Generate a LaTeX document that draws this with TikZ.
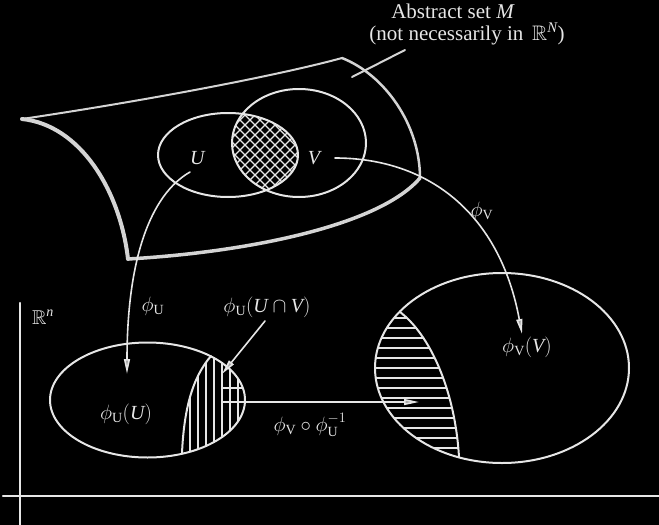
\documentclass[tikz,border=0pt]{standalone}
\usepackage{amsmath,amssymb}
\usepackage{fontspec}
\setmainfont{Liberation Serif}
\usetikzlibrary{arrows.meta}
\definecolor{ink}{HTML}{E6E6E6}
\definecolor{inkb}{HTML}{D4D4D4}
\begin{document}
\begin{tikzpicture}[x=1pt,y=-1pt, line join=round, line cap=round,
  curve/.style={ink, line width=2pt},
  edge/.style={inkb},
  hatch/.style={ink, line width=1.3pt},
  lbl/.style={text=ink, font=\fontsize{20}{24}\selectfont, inner sep=0pt},
  txt/.style={text=ink, font=\fontsize{21}{25}\selectfont, inner sep=0pt, anchor=base},
  arr/.style={ink, line width=1.6pt, -{Triangle[length=15pt,width=6pt,fill=gray!70]}},
]
\fill[black] (0,0) rectangle (659,525);
\useasboundingbox (0,0) rectangle (659,525);

% abstract set M
\coordinate (TL) at (22,119);
\coordinate (TR) at (342,58);
\coordinate (BR) at (420,178);
\coordinate (BL) at (128,259);
\draw[edge, line width=2pt] (TL) .. controls (150,100) and (280,75) .. (TR);
\draw[edge, line width=2.5pt] (TR) .. controls (385,75) and (420,125) .. (BR);
\draw[edge, line width=3.5pt] (BR) .. controls (380,225) and (250,252) .. (BL);
\draw[edge, line width=4pt] (TL) .. controls (80,125) and (120,190) .. (BL);

% cross hatch U cap V
\begin{scope}
  \clip (228,155) ellipse [x radius=70, y radius=42];
  \clip (299,143) ellipse [x radius=67, y radius=54];
  \foreach \c in {340,350,...,500} \draw[ink, line width=1.1pt] (\c-100,100) -- (\c-210,210);
  \foreach \d in {30,40,...,190} \draw[ink, line width=1.1pt] (\d+100,100) -- (\d+210,210);
\end{scope}
\draw[curve] (228,155) ellipse [x radius=70, y radius=42];
\draw[curve] (299,143) ellipse [x radius=67, y radius=54];
\node[lbl] (U) at (198,158) {\textit{U}};
\node[lbl] (V) at (315,158) {\textit{V}};
\coordinate (Us) at (190,172);
\coordinate (Vs) at (335,158);

% label for M
\node[txt] (M1) at (453,18) {Abstract set \textit{M}};
\node[txt] (M2) at (467,40) {(not necessarily in\, $\mathbb{R}^{\textit{N}}$)};
\coordinate (Ma) at (405,50);
\coordinate (Mb) at (352,77);
\draw[edge, line width=2pt] (Ma) -- (Mb);

% axes
\coordinate (Ay0) at (20,303);
\coordinate (Ay1) at (20,525);
\coordinate (Ax0) at (3,496);
\coordinate (Ax1) at (659,496);
\draw[ink, line width=2.5pt] (Ay0) -- (Ay1);
\draw[ink, line width=2.5pt] (Ax0) -- (Ax1);
\node[lbl] (Rn) at (43,317) {$\mathbb{R}^{\textit{n}}$};

% phi_U(U)
\begin{scope}
  \clip (147.5,400) ellipse [x radius=97.5, y radius=57.5];
  \clip (182,470) -- (182,453) .. controls (184,410) and (192,378) .. (211,356) -- (211,330) -- (260,330) -- (260,470) -- cycle;
  \foreach \x in {190,198,...,246} \draw[hatch] (\x,330) -- (\x,470);
  \draw[hatch] (222,388) -- (250,388);
\end{scope}
\draw[curve] (182,453) .. controls (184,410) and (192,378) .. (211,356);
\draw[curve] (147.5,400) ellipse [x radius=97.5, y radius=57.5];

% phi_V(V)
\begin{scope}
  \clip (502,368) ellipse [x radius=127, y radius=95];
  \clip (360,300) -- (400,300) -- (400,312) .. controls (430,335) and (455,390) .. (459,457) -- (459,480) -- (360,480) -- cycle;
  \foreach \y in {318,328,...,458} \draw[hatch] (360,\y) -- (470,\y);
\end{scope}
\draw[curve] (400,312) .. controls (430,335) and (455,390) .. (459,457);
\draw[curve] (502,368) ellipse [x radius=127, y radius=95];

% arrows
\coordinate (pUtip) at (127,374);
\coordinate (pVtip) at (522,334);
\coordinate (UVs) at (265,321);
\coordinate (UVt) at (222,374);
\coordinate (Ts) at (222,402);
\coordinate (Tt) at (419,402);
\draw[arr] (Us) .. controls (150,195) and (127,260) .. (pUtip);
\draw[arr] (Vs) .. controls (430,158) and (500,215) .. (pVtip);
\draw[arr] (UVs) -- (UVt);
\draw[arr] (Ts) -- (Tt);

% labels
\node[lbl] (lpu) at (153,306) {$\phi_{\mathrm{U}}$};
\node[lbl] (lpv) at (482,211) {$\phi_{\mathrm{V}}$};
\node[lbl] (lpuU) at (126,414) {$\phi_{\mathrm{U}}(\textit{U})$};
\node[lbl] (lpvV) at (527,347) {$\phi_{\mathrm{V}}(\textit{V})$};
\node[lbl] (lUV) at (267,307) {$\phi_{\mathrm{U}}(\textit{U}\cap \textit{V})$};
\node[lbl] (lT) at (310,425) {$\phi_{\mathrm{V}}\circ\phi_{\mathrm{U}}^{-1}$};
\end{tikzpicture}
\end{document}
